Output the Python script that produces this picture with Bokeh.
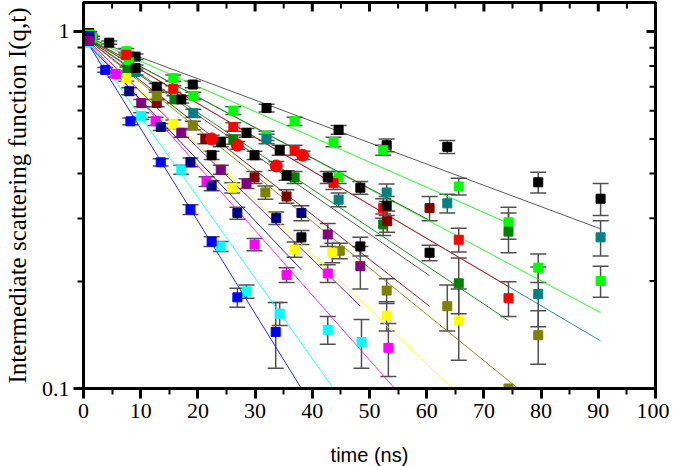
from bokeh.plotting import figure
from bokeh.models import (FixedTicker, Whisker, TeeHead, ColumnDataSource,
                          Range1d, LinearScale)
from bokeh.embed import file_html
from bokeh.resources import INLINE

# ---------------- data ----------------
x_ticks = [0, 10, 20, 30, 40, 50, 60, 70, 80, 90, 100]
x_minor = [5, 15, 25, 35, 45, 55, 65, 75, 85, 95]
y_ticks = [0.1, 1.0]
y_minor = [0.2, 0.3, 0.4, 0.5, 0.6, 0.7, 0.8, 0.9]
y_tick_labels = ["0.1", "1"]

t_blk_a = [1.0, 4.5, 9.1, 19.1, 32.0, 44.6, 53.0, 63.6, 79.5, 90.4]
y_blk_a = [0.99, 0.93, 0.85, 0.71, 0.61, 0.53, 0.48, 0.475, 0.378, 0.34]
e_blk_a = [0.01, 0.01, 0.015, 0.015, 0.015, 0.015, 0.02, 0.02, 0.025, 0.035]
fit_t_blk_a = [0, 90.4]
fit_y_blk_a = [0.97, 0.28]

t_lime_a = [1.0, 7.5, 15.7, 26.2, 36.9, 43.7, 52.4, 65.6, 74.3]
y_lime_a = [0.98, 0.88, 0.74, 0.60, 0.56, 0.49, 0.465, 0.368, 0.292]
e_lime_a = [0.01, 0.015, 0.015, 0.015, 0.015, 0.015, 0.015, 0.02, 0.03]
fit_t_lime_a = [0, 74.3]
fit_y_lime_a = [0.97, 0.29]

t_lime_b = [1.5, 8.0, 19.2, 32.0, 44.6, 79.5, 90.4]
y_lime_b = [0.96, 0.82, 0.66, 0.51, 0.39, 0.218, 0.20]
e_lime_b = [0.01, 0.015, 0.015, 0.015, 0.015, 0.02, 0.02]
fit_t_lime_b = [0, 90.4]
fit_y_lime_b = [0.97, 0.163]

t_teal = [1.0, 9.1, 19.2, 32.0, 44.6, 53.0, 63.6, 79.5, 90.4]
y_teal = [0.96, 0.77, 0.59, 0.50, 0.338, 0.354, 0.33, 0.184, 0.265]
e_teal = [0.01, 0.015, 0.015, 0.015, 0.015, 0.02, 0.02, 0.035, 0.03]
fit_t_teal = [0, 90.4]
fit_y_teal = [0.97, 0.136]

t_red = [1.0, 7.5, 15.7, 26.2, 36.9, 43.7, 52.4, 65.6, 74.3]
y_red = [0.97, 0.86, 0.69, 0.54, 0.465, 0.376, 0.32, 0.261, 0.179]
e_red = [0.01, 0.015, 0.015, 0.015, 0.015, 0.015, 0.02, 0.02, 0.02]
fit_t_red = [0, 74.3]
fit_y_red = [0.97, 0.193]

t_dgreen = [1.0, 7.7, 15.9, 26.2, 36.9, 52.4, 65.6, 74.3]
y_dgreen = [0.97, 0.78, 0.645, 0.498, 0.39, 0.288, 0.197, 0.275]
e_dgreen = [0.01, 0.015, 0.015, 0.015, 0.015, 0.02, 0.035, 0.035]
fit_t_dgreen = [0, 74.3]
fit_y_dgreen = [0.97, 0.155]

t_blk_b = [1.0, 9.1, 17.1, 24.0, 28.5, 34.3, 42.7, 48.4, 53.0]
y_blk_b = [0.97, 0.79, 0.645, 0.49, 0.52, 0.465, 0.39, 0.365, 0.325]
e_blk_b = [0.01, 0.015, 0.015, 0.015, 0.015, 0.015, 0.015, 0.015, 0.02]
fit_t_blk_b = [0, 60.3]
fit_y_blk_b = [0.97, 0.297]

t_blk_c = [1.0, 12.8, 22.4, 29.9, 35.5, 38.1, 48.4, 60.5]
y_blk_c = [0.96, 0.70, 0.45, 0.45, 0.395, 0.265, 0.25, 0.24]
e_blk_c = [0.01, 0.015, 0.012, 0.012, 0.012, 0.012, 0.015, 0.012]
fit_t_blk_c = [0, 60.5]
fit_y_blk_c = [0.97, 0.207]

t_maroon = [1.0, 12.8, 21.3, 29.9, 35.5, 53.1, 60.5]
y_maroon = [0.96, 0.63, 0.50, 0.39, 0.345, 0.294, 0.32]
e_maroon = [0.01, 0.015, 0.015, 0.015, 0.015, 0.02, 0.025]
fit_t_maroon = [0, 60.5]
fit_y_maroon = [0.97, 0.17]

t_olive = [1.0, 12.8, 19.1, 31.8, 44.8, 53.0, 63.6, 74.3, 79.5]
y_olive = [0.96, 0.66, 0.545, 0.354, 0.243, 0.188, 0.17, 0.10, 0.141]
e_olive = [0.01, 0.015, 0.015, 0.015, 0.012, 0.015, 0.025, 0.0, 0.024]
fit_t_olive = [0, 76.0]
fit_y_olive = [0.97, 0.10]

t_yellow = [1.0, 7.5, 15.7, 26.0, 36.9, 43.5, 53.0, 65.6]
y_yellow = [0.96, 0.74, 0.55, 0.365, 0.245, 0.24, 0.16, 0.155]
e_yellow = [0.01, 0.015, 0.015, 0.012, 0.012, 0.015, 0.015, 0.035]
fit_t_yellow = [0, 64.5]
fit_y_yellow = [0.97, 0.10]

t_magenta = [1.0, 5.6, 12.6, 21.5, 29.9, 35.5, 42.7, 53.3]
y_magenta = [0.95, 0.76, 0.56, 0.38, 0.253, 0.208, 0.21, 0.13]
e_magenta = [0.01, 0.015, 0.015, 0.012, 0.01, 0.01, 0.012, 0.022]
fit_t_magenta = [0, 54.4]
fit_y_magenta = [0.97, 0.10]

t_cyan = [1.0, 10.1, 17.1, 24.0, 28.5, 34.3, 42.7, 48.6]
y_cyan = [0.93, 0.58, 0.41, 0.25, 0.187, 0.162, 0.146, 0.135]
e_cyan = [0.01, 0.012, 0.012, 0.008, 0.008, 0.012, 0.013, 0.021]
fit_t_cyan = [0, 43.7]
fit_y_cyan = [0.97, 0.10]

t_blue = [1.0, 3.8, 8.2, 13.5, 18.7, 22.4, 26.9, 33.6]
y_blue = [0.97, 0.78, 0.56, 0.43, 0.317, 0.258, 0.18, 0.144]
e_blue = [0.01, 0.012, 0.012, 0.01, 0.01, 0.008, 0.011, 0.03]
fit_t_blue = [0, 38.1]
fit_y_blue = [0.97, 0.10]

t_navy = [1.0, 8.0, 13.5, 18.7, 22.4, 26.9, 33.7, 38.1]
y_navy = [0.95, 0.68, 0.54, 0.43, 0.37, 0.31, 0.30, 0.31]
e_navy = [0.01, 0.015, 0.012, 0.012, 0.012, 0.012, 0.012, 0.015]
fit_t_navy = [0, 38.1]
fit_y_navy = [0.95, 0.215]

t_purple = [1.0, 10.1, 17.1, 24.0, 28.5, 42.7, 48.4]
y_purple = [0.94, 0.63, 0.52, 0.41, 0.375, 0.27, 0.22]
e_purple = [0.01, 0.015, 0.015, 0.012, 0.012, 0.02, 0.03]
fit_t_purple = [0, 48.4]
fit_y_purple = [0.97, 0.17]

t_redc = [22.4, 26.9, 33.7, 38.3]
y_redc = [0.50, 0.48, 0.42, 0.45]
e_redc = [0.012, 0.012, 0.012, 0.012]

# (t, y, err, fit_t, fit_y, colour, marker)
series = [
    (t_blk_a, y_blk_a, e_blk_a, fit_t_blk_a, fit_y_blk_a, "#000000", "square"),
    (t_lime_a, y_lime_a, e_lime_a, fit_t_lime_a, fit_y_lime_a, "#00FF00", "square"),
    (t_lime_b, y_lime_b, e_lime_b, fit_t_lime_b, fit_y_lime_b, "#00FF00", "square"),
    (t_teal, y_teal, e_teal, fit_t_teal, fit_y_teal, "#008080", "square"),
    (t_red, y_red, e_red, fit_t_red, fit_y_red, "#FF0000", "square"),
    (t_dgreen, y_dgreen, e_dgreen, fit_t_dgreen, fit_y_dgreen, "#008000", "square"),
    (t_blk_b, y_blk_b, e_blk_b, fit_t_blk_b, fit_y_blk_b, "#000000", "square"),
    (t_blk_c, y_blk_c, e_blk_c, fit_t_blk_c, fit_y_blk_c, "#000000", "square"),
    (t_maroon, y_maroon, e_maroon, fit_t_maroon, fit_y_maroon, "#800000", "square"),
    (t_olive, y_olive, e_olive, fit_t_olive, fit_y_olive, "#808000", "square"),
    (t_yellow, y_yellow, e_yellow, fit_t_yellow, fit_y_yellow, "#FFFF00", "square"),
    (t_magenta, y_magenta, e_magenta, fit_t_magenta, fit_y_magenta, "#FF00FF", "square"),
    (t_cyan, y_cyan, e_cyan, fit_t_cyan, fit_y_cyan, "#00FFFF", "square"),
    (t_blue, y_blue, e_blue, fit_t_blue, fit_y_blue, "#0000FF", "square"),
    (t_navy, y_navy, e_navy, fit_t_navy, fit_y_navy, "#000080", "square"),
    (t_purple, y_purple, e_purple, fit_t_purple, fit_y_purple, "#800080", "square"),
    (t_redc, y_redc, e_redc, None, None, "#FF0000", "circle"),
]

# ---------------- figure ----------------
FW, FH = 572, 386   # frame size in pixels

p = figure(frame_width=FW, frame_height=FH, y_axis_type="log",
           x_range=Range1d(0, 100), y_range=Range1d(0.1, 1.205),
           output_backend="svg", toolbar_location=None,
           min_border_left=71, min_border_right=14,
           min_border_top=2, min_border_bottom=8)
p.outline_line_color = "black"
p.outline_line_width = 3
p.outline_line_alpha = 1.0
p.xgrid.visible = False
p.ygrid.visible = False
p.background_fill_color = "white"
p.border_fill_color = "white"

SERIF = "Liberation Serif"

xa = p.xaxis[0]
xa.ticker = FixedTicker(ticks=x_ticks, minor_ticks=x_minor)
xa.axis_label = "time (ns)"
xa.axis_label_text_font = "Liberation Sans"
xa.axis_label_text_font_size = "20px"
xa.axis_label_text_font_style = "normal"
xa.axis_label_standoff = 23
xa.major_label_text_font = SERIF
xa.major_label_text_font_size = "22px"
xa.major_label_standoff = 5

ya = p.yaxis[0]
ya.ticker = FixedTicker(ticks=y_ticks, minor_ticks=y_minor)
ya.major_label_overrides = {t: s for t, s in zip(y_ticks, y_tick_labels)}
ya.axis_label = "Intermediate scattering function I(q,t)"
ya.axis_label_text_font = SERIF
ya.axis_label_text_font_size = "25px"
ya.axis_label_text_font_style = "normal"
ya.axis_label_standoff = 8
ya.major_label_text_font = SERIF
ya.major_label_text_font_size = "22px"
ya.major_label_standoff = 4

for ax in (xa, ya):
    ax.axis_line_width = 3
    ax.axis_line_color = "black"
    ax.major_tick_line_width = 3
    ax.minor_tick_line_width = 2
    ax.major_tick_out = 10
    ax.major_tick_in = 0
    ax.minor_tick_out = 6
    ax.minor_tick_in = 0
    ax.major_label_text_color = "black"
    ax.axis_label_text_color = "black"

# mirrored inward ticks on the top and right frame edges (pixel ranges)
p.extra_x_ranges = {"fx": Range1d(0, FW)}
p.extra_y_ranges = {"fy": Range1d(0, FH)}
p.extra_x_scales = {"fx": LinearScale()}
p.extra_y_scales = {"fy": LinearScale()}

p.segment(x0=x_ticks, x1=x_ticks, y0=[FH] * len(x_ticks), y1=[FH - 9] * len(x_ticks),
          y_range_name="fy", line_color="black", line_width=3)
p.segment(x0=x_minor, x1=x_minor, y0=[FH] * len(x_minor), y1=[FH - 6] * len(x_minor),
          y_range_name="fy", line_color="black", line_width=2)
p.segment(x0=[FW] * len(y_ticks), x1=[FW - 9] * len(y_ticks), y0=y_ticks, y1=y_ticks,
          x_range_name="fx", line_color="black", line_width=3)
p.segment(x0=[FW] * len(y_minor), x1=[FW - 6] * len(y_minor), y0=y_minor, y1=y_minor,
          x_range_name="fx", line_color="black", line_width=2)

# error bars (behind everything)
for t, y, e, ft, fy, col, mk in series:
    src = ColumnDataSource(dict(t=t, lo=[a - b for a, b in zip(y, e)],
                                hi=[a + b for a, b in zip(y, e)]))
    w = Whisker(base="t", lower="lo", upper="hi", source=src,
                line_color="#505050", line_width=1.5, level="underlay",
                upper_head=TeeHead(size=16, line_color="#505050", line_width=1.5),
                lower_head=TeeHead(size=16, line_color="#505050", line_width=1.5))
    p.add_layout(w)

# fit lines
for t, y, e, ft, fy, col, mk in series:
    if ft is None:
        continue
    lc = "#404040" if col == "#000000" else col
    p.line(ft, fy, line_color=lc, line_width=1, line_alpha=0.85)

# markers
for t, y, e, ft, fy, col, mk in series:
    if mk == "circle":
        p.scatter(t, y, marker="circle", size=12, fill_color=col, line_color=col)
    else:
        p.scatter(t, y, marker="square", size=9, fill_color=col, line_color=col)

open("out.html", "w").write(file_html(p, INLINE))
